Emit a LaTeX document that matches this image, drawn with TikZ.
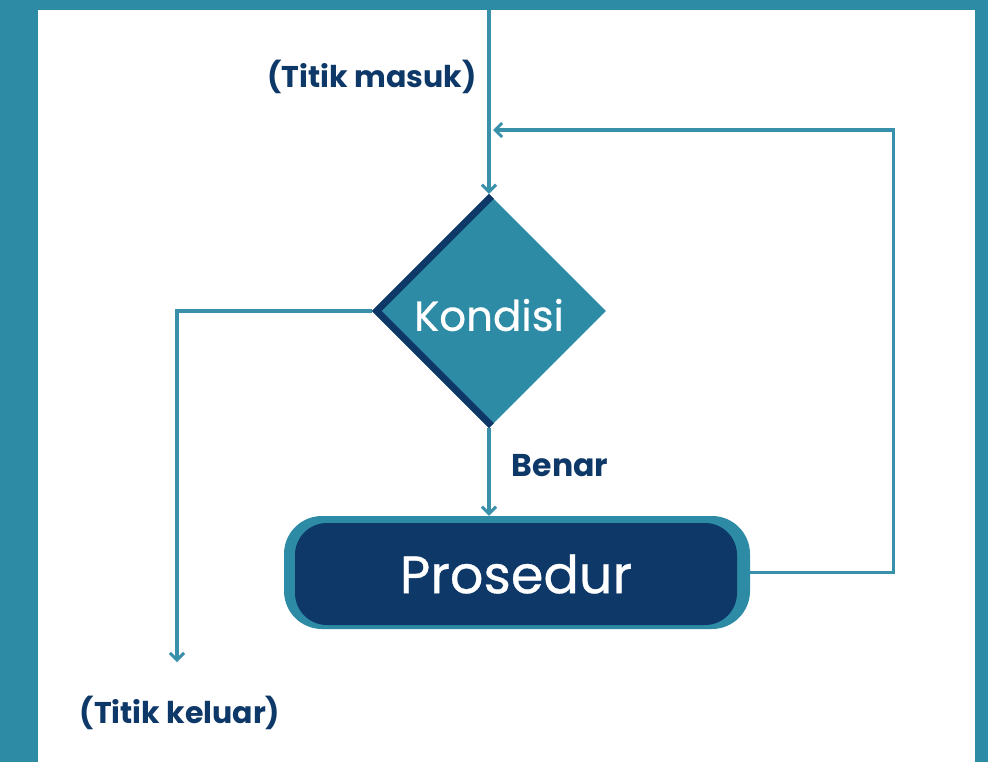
\documentclass[tikz,border=0pt]{standalone}
\usepackage{fontspec}
\setmainfont{Poppins}
\newfontfamily\medfont[FakeBold=0.6]{Poppins}
\usetikzlibrary{shapes.geometric,arrows.meta}
\definecolor{tealc}{HTML}{2E8BA5}
\definecolor{linec}{HTML}{3990AA}
\definecolor{navy}{HTML}{0D3868}
\tikzset{
  conn/.style={draw=linec, line width=3.2pt},
  arr/.style={conn, -{Straight Barb[length=7pt,width=14pt,line width=3pt]}},
  lbl/.style={text=navy, font=\bfseries\fontsize{30}{34}\selectfont, inner sep=0pt},
}
\begin{document}
\begin{tikzpicture}[x=1pt,y=1pt]
\useasboundingbox (0,0) rectangle (988,-762);
\fill[tealc] (0,0) rectangle (988,-762);
\fill[white] (38,-10) rectangle (975,-762);
% diamond
\node[diamond, aspect=1, minimum width=234pt, minimum height=234pt, inner sep=0pt, fill=tealc] (kond) at (489,-311) {};
\begin{scope}
\clip (kond.north) -- (kond.east) -- (kond.south) -- (kond.west) -- cycle;
\draw[navy, line width=14pt, line join=miter] (kond.north) -- (kond.west) -- (kond.south);
\end{scope}
\node[text=white, font=\medfont\fontsize{42}{46}\selectfont, inner sep=0pt] (kondtxt) at (489,-315) {Kondisi};
% prosedur
\node[rectangle, rounded corners=38pt, minimum width=466pt, minimum height=113pt, fill=tealc, inner sep=0pt] (pros) at (517,-572.5) {};
\node[rectangle, rounded corners=32pt, minimum width=442pt, minimum height=102pt, fill=navy, text=white, font=\medfont\fontsize{52.5}{58}\selectfont, inner sep=0pt] (prosin) at (516,-574) {Prosedur};
% coordinates
\coordinate (entry) at (489,-10);
\coordinate (exitend) at (177,-662);
\coordinate (loopend) at (493,-130);
% connectors
\draw[arr] (entry) -- (kond.north);
\draw[arr] (kond.west) -| (exitend);
\draw[arr] (kond.south) -- (kond.south |- pros.north);
\draw[arr] (pros.east) -- ++(143,0) |- (loopend);
% labels
\node[lbl] (masuk) at (372,-77) {(Titik masuk)};
\node[lbl, font=\bfseries\fontsize{31.5}{34}\selectfont] (benar) at (560,-466) {Benar};
\node[lbl] (keluar) at (180,-713) {(Titik keluar)};
\end{tikzpicture}
\end{document}
